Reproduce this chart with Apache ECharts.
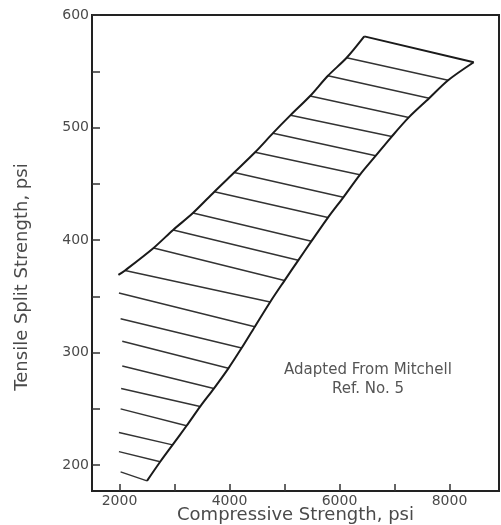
<!DOCTYPE html>
<html>
<head>
<meta charset="utf-8">
<script src="https://cdn.jsdelivr.net/npm/echarts@6/dist/echarts.min.js"></script>
<style>
  html, body { margin: 0; padding: 0; background: #fff; }
  #chart { width: 501px; height: 525px; }
</style>
</head>
<body>
<div id="chart"></div>
<script>
// hatch line ends, top (index 0 = top edge) to bottom
var leftX = [6450, 6130, 5790, 5465, 5110, 4790, 4465, 4085, 3725, 3335, 2975, 2620, 2100, 1990, 2020, 2050, 2050, 2030, 2020, 1990, 1990, 2020];
var leftY = [581, 562, 546, 528, 511, 495, 478, 460, 443, 424, 409, 393, 373, 353, 330, 310, 288, 268, 250, 229, 212, 194];
var rightX = [8440, 7975, 7630, 7260, 6950, 6660, 6370, 6070, 5790, 5490, 5250, 5000, 4740, 4460, 4220, 3980, 3715, 3466, 3220, 2965, 2740, 2500];
var rightY = [558, 542, 526, 509, 492, 475, 458, 438, 420, 399, 382, 364, 345, 323, 304, 286, 268, 252, 235, 218, 203, 186];
// lower end of the upper (left) boundary
var leftFoot = [1980, 369];
// number of hatch lines whose left end sits on the drawn left boundary
var leftOnBoundary = 13;

var xTicks = [2000, 3000, 4000, 5000, 6000, 7000, 8000];
var xLabels = [2000, 4000, 6000, 8000];
var yTicks = [200, 250, 300, 350, 400, 450, 500, 550, 600];
var yLabels = [200, 300, 400, 500, 600];

var textColor = '#4a4a4a';
var font = 'DejaVu Sans';

// left boundary going up
var upperEdge = [leftFoot];
for (var i = leftOnBoundary - 1; i >= 0; i--) {
	upperEdge.push([leftX[i], leftY[i]]);
}
// right boundary going down
var lowerEdge = [];
for (var j = 0; j < rightX.length; j++) {
	lowerEdge.push([rightX[j], rightY[j]]);
}
var topEdge = [[leftX[0], leftY[0]], [rightX[0], rightY[0]]];

var hatch = [];
for (var k = 1; k < leftX.length; k++) {
	hatch.push({ coords: [[leftX[k], leftY[k]], [rightX[k], rightY[k]]] });
}

function plain(v) {
	return String(v);
}

var edgeStyle = { color: '#1a1a1a', width: 2 };

var chart = echarts.init(document.getElementById('chart'), null, { renderer: 'canvas' });
chart.setOption({
	backgroundColor: '#ffffff',
	animation: false,
	grid: {
		left: 92, right: 2, top: 15, bottom: 34,
		outerBoundsMode: 'none',
		containLabel: false,
		show: true, borderColor: '#222', borderWidth: 2
	},
	xAxis: {
		type: 'value',
		min: 1500,
		max: 8900,
		name: 'Compressive Strength, psi',
		nameLocation: 'middle',
		nameGap: 15,
		nameMoveOverlap: false,
		nameTextStyle: { fontFamily: font, fontSize: 18, color: textColor },
		axisLine: { show: true, lineStyle: { color: '#222', width: 2 } },
		axisTick: { show: true, inside: true, length: 7, customValues: xTicks, lineStyle: { color: '#333', width: 1.5 } },
		axisLabel: { customValues: xLabels, formatter: plain, margin: 3, fontFamily: font, fontSize: 14, color: textColor },
		splitLine: { show: false }
	},
	yAxis: {
		type: 'value',
		min: 177,
		max: 600,
		name: 'Tensile Split Strength, psi',
		nameLocation: 'middle',
		nameGap: 61,
		nameMoveOverlap: false,
		nameTextStyle: { fontFamily: font, fontSize: 18, color: textColor, padding: [0, 48, 0, 0] },
		axisLine: { show: true, lineStyle: { color: '#222', width: 2 } },
		axisTick: { show: true, inside: true, length: 8, customValues: yTicks, lineStyle: { color: '#333', width: 1.5 } },
		axisLabel: { customValues: yLabels, formatter: plain, margin: 3, fontFamily: font, fontSize: 14, color: textColor },
		splitLine: { show: false }
	},
	graphic: [{
		type: 'text',
		x: 368, y: 380,
		style: {
			text: 'Adapted From Mitchell\nRef. No. 5',
			fontFamily: font, fontSize: 15, lineHeight: 19,
			fill: '#555', align: 'center', verticalAlign: 'middle'
		}
	}],
	series: [{
		type: 'line',
		data: upperEdge,
		showSymbol: false,
		smooth: 0.3,
		lineStyle: edgeStyle,
		z: 3
	}, {
		type: 'line',
		data: topEdge,
		showSymbol: false,
		lineStyle: edgeStyle,
		z: 3
	}, {
		type: 'line',
		data: lowerEdge,
		showSymbol: false,
		smooth: 0.3,
		lineStyle: edgeStyle,
		z: 3
	}, {
		type: 'lines',
		coordinateSystem: 'cartesian2d',
		polyline: false,
		data: hatch,
		lineStyle: { color: '#333', width: 1.5, opacity: 1 },
		z: 2
	}]
});
</script>
</body>
</html>
